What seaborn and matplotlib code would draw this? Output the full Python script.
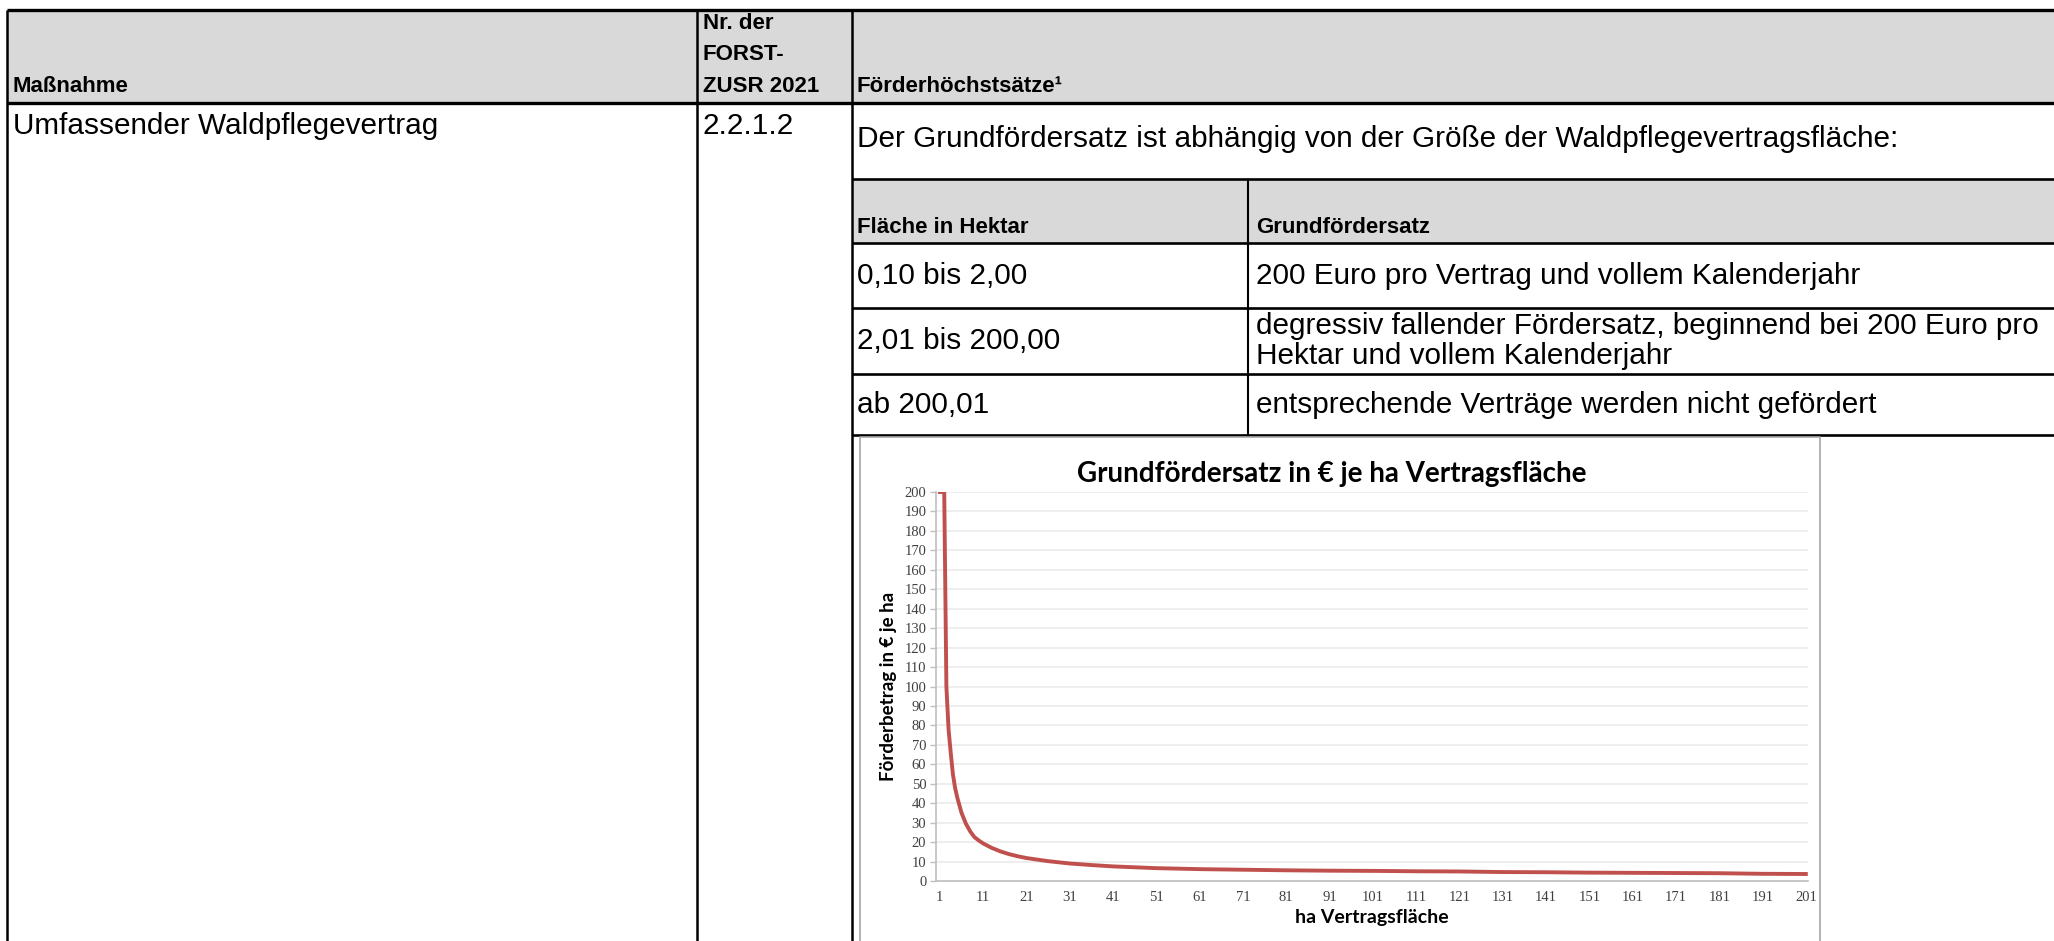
import matplotlib
matplotlib.use("Agg")
import matplotlib.pyplot as plt
from matplotlib.patches import Rectangle
import seaborn as sns

# --- chart data ---
area_ha = [1, 2, 2.5, 3, 3.5, 4, 4.5, 5, 6, 7, 8, 9, 10, 11, 13, 15, 17, 19, 21, 26,
           31, 36, 41, 51, 61, 71, 81, 91, 101, 111, 121, 131, 141, 151, 161, 171,
           181, 191, 201]
rate_eur = [200, 200, 100, 78, 66, 55, 48, 43, 35, 29.5, 25.5, 22.5, 20.8, 19.3, 17,
            15.2, 13.8, 12.7, 11.8, 10.2, 9.0, 8.2, 7.5, 6.6, 6.1, 5.8, 5.5, 5.3, 5.2,
            5.0, 4.9, 4.6, 4.5, 4.3, 4.2, 4.1, 4.0, 3.7, 3.6]
y_ticks = list(range(0, 201, 10))
x_ticks = list(range(1, 202, 10))

# --- table text ---
header_cols = ["Maßnahme", "Nr. der\nFORST-\nZUSR 2021", "Förderhöchstsätze¹"]
row_cells = ["Umfassender Waldpflegevertrag", "2.2.1.2",
             "Der Grundfördersatz ist abhängig von der Größe der Waldpflegevertragsfläche:"]
inner_header = ["Fläche in Hektar", "Grundfördersatz"]
inner_rows = [
    ("0,10 bis 2,00", "200 Euro pro Vertrag und vollem Kalenderjahr"),
    ("2,01 bis 200,00", "degressiv fallender Fördersatz, beginnend bei 200 Euro pro\nHektar und vollem Kalenderjahr"),
    ("ab 200,01", "entsprechende Verträge werden nicht gefördert"),
]

W, H = 2054, 941
fig = plt.figure(figsize=(W / 100, H / 100), dpi=100)
bg = fig.add_axes([0, 0, 1, 1])
bg.set_xlim(0, W)
bg.set_ylim(H, 0)
bg.axis("off")

narrow = ["Liberation Sans Narrow", "Liberation Sans", "DejaVu Sans"]
arial = ["Liberation Sans", "DejaVu Sans"]
grey = "#d9d9d9"
body_fs = 21.4
head_fs = 16

# column / row positions in pixels
x_left, x_c1, x_c2, x_in = 7, 697, 852, 1248
y_top, y_head, y_in_top, y_in_head = 10, 103, 179, 243
y_rows = [243, 308, 374, 435]

bg.add_patch(Rectangle((x_left, y_top), W - x_left, y_head - y_top, color=grey, lw=0))
bg.add_patch(Rectangle((x_c2, y_in_top), W - x_c2, y_in_head - y_in_top, color=grey, lw=0))

# horizontal lines
bg.plot([x_left, W], [y_top, y_top], color="black", lw=2.4, solid_capstyle="butt")
bg.plot([x_left, W], [y_head, y_head], color="black", lw=2.4, solid_capstyle="butt")
for y in [y_in_top] + y_rows:
    bg.plot([x_c2, W], [y, y], color="black", lw=1.9, solid_capstyle="butt")
# vertical lines
for x in [x_left, x_c1, x_c2]:
    bg.plot([x, x], [y_top, H], color="black", lw=1.8, solid_capstyle="butt")
bg.plot([x_in, x_in], [y_in_top, y_rows[-1]], color="black", lw=1.5, solid_capstyle="butt")

# header text
bg.text(13, 86, header_cols[0], family=narrow, weight="bold", fontsize=head_fs, va="center")
for i, line in enumerate(header_cols[1].split("\n")):
    bg.text(703, [23, 54, 86][i], line, family=narrow, weight="bold", fontsize=head_fs, va="center")
bg.text(857, 86, header_cols[2], family=narrow, weight="bold", fontsize=head_fs, va="center")

# body row
bg.text(13, 126, row_cells[0], family=arial, fontsize=body_fs, va="center")
bg.text(703, 126, row_cells[1], family=arial, fontsize=body_fs, va="center")
bg.text(857, 139, row_cells[2], family=arial, fontsize=body_fs, va="center")

# inner table
bg.text(857, 227, inner_header[0], family=narrow, weight="bold", fontsize=head_fs, va="center")
bg.text(1256, 227, inner_header[1], family=narrow, weight="bold", fontsize=head_fs, va="center")
row_mid = [276, 341, 405]
for (left, right), ym in zip(inner_rows, row_mid):
    bg.text(857, ym, left, family=arial, fontsize=body_fs, va="center")
    lines = right.split("\n")
    if len(lines) == 1:
        bg.text(1256, ym, right, family=arial, fontsize=body_fs, va="center")
    else:
        bg.text(1256, ym - 15, lines[0], family=arial, fontsize=body_fs, va="center")
        bg.text(1256, ym + 15, lines[1], family=arial, fontsize=body_fs, va="center")

# chart frame (embedded picture)
bg.plot([860, 860, 1820, 1820], [H, 437, 437, H], color="#a6a6a6", lw=1.2)

# --- embedded chart ---
px0, px1, py0, py1 = 936, 1808, 492, 881
ax = fig.add_axes([px0 / W, (H - py1) / H, (px1 - px0) / W, (py1 - py0) / H])
sns.lineplot(x=area_ha, y=rate_eur, ax=ax, color="#c0504d", lw=2.8)
ax.set_xlim(0.1, 201.5)
ax.set_ylim(0, 200)
ax.set_yticks(y_ticks)
ax.set_xticks(x_ticks)
tick_font = ["Liberation Serif", "DejaVu Serif"]
ax.set_xticklabels([str(v) for v in x_ticks], family=tick_font, fontsize=10.5, color="#404040")
ax.set_yticklabels([str(v) for v in y_ticks], family=tick_font, fontsize=10.5, color="#404040")
ax.tick_params(axis="x", length=0, pad=7)
ax.tick_params(axis="y", length=4, width=1, color="#bfbfbf", pad=3)
ax.grid(axis="y", color="#ebebeb", lw=1.2)
ax.set_axisbelow(True)
for s in ["top", "right"]:
    ax.spines[s].set_visible(False)
for s in ["left", "bottom"]:
    ax.spines[s].set_color("#bfbfbf")
    ax.spines[s].set_linewidth(1.2)
ax.set_xlabel("ha Vertragsfläche", family=["Lato", "DejaVu Sans"], weight="bold", fontsize=14, labelpad=4)
ax.set_ylabel("Förderbetrag in € je ha", family=["Lato", "DejaVu Sans"], weight="bold", fontsize=13.5, labelpad=5)

bg.text(1332, 474, "Grundfördersatz in € je ha Vertragsfläche", family=["Lato", "DejaVu Sans"],
        weight="bold", fontsize=20, ha="center", va="center")

fig.savefig("out.png", dpi=100)
